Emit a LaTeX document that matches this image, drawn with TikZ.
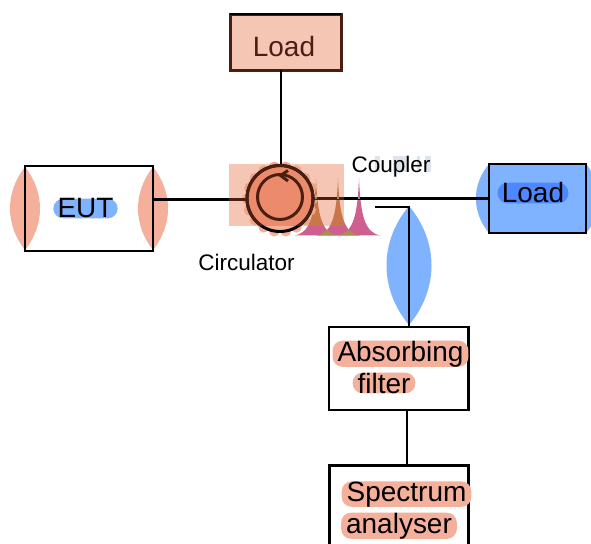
\documentclass[tikz,border=0pt]{standalone}
\usepackage{fontspec}
\setmainfont{Liberation Sans}
\usetikzlibrary{positioning, calc}
\definecolor{salmon}{HTML}{F4B09A}
\definecolor{palesalmon}{HTML}{F6C6B5}
\definecolor{midsalmon}{HTML}{F0A487}
\definecolor{deepsalmon}{HTML}{EC8A6C}
\definecolor{skyblue}{HTML}{80B3FF}
\definecolor{deepblue}{HTML}{4D88FF}
\definecolor{darkbrown}{HTML}{4A1E12}
\definecolor{spikepink}{HTML}{CF5F8F}
\definecolor{spikeorange}{HTML}{C9774A}
\definecolor{spikeolive}{HTML}{A8904F}
\definecolor{spiketeal}{HTML}{3DB08A}
\definecolor{paleslate}{HTML}{DDE4EC}
\tikzset{
  block/.style={draw=black, line width=2.1pt, inner sep=0pt, outer sep=0pt},
  wire/.style={draw=black, line width=2.1pt},
  bigtext/.style={font=\fontsize{19.9}{23}\selectfont, inner sep=0pt, anchor=base},
  smalltext/.style={font=\fontsize{16}{19}\selectfont, inner sep=0pt, anchor=base},
  mark salmon/.style={bigtext, fill=salmon, rounded corners=7pt, inner xsep=3.5pt},
  mark blue/.style={bigtext, fill=skyblue, rounded corners=7pt, inner xsep=3pt},
}
\newcommand{\lens}[4]{% x top bottom bulge
  (#1,#2) .. controls (#1-#4,#2+.3*#3-.3*#2) and (#1-#4,#2+.7*#3-.7*#2) .. (#1,#3)
          .. controls (#1+#4,#2+.7*#3-.7*#2) and (#1+#4,#2+.3*#3-.3*#2) .. (#1,#2) -- cycle}
\newcommand{\spike}[1]{% x of the peak
  (#1,178) .. controls (#1+1.5,216) and (#1+6,233.5) .. (#1+22,235.5)
           -- (#1-22,235.5) .. controls (#1-6,233.5) and (#1-1.5,216) .. (#1,178) -- cycle}
\newcommand{\blobfill}[1]{% scalloped disc of the circulator
  \fill[#1] (280,199) circle (34);
  \foreach \a in {0,20,...,340}
    \fill[#1] ($(280,199)+(\a:32.5)$) circle (5.5);}
\begin{document}
\begin{tikzpicture}[x=0.025cm, y=-0.025cm]
  \useasboundingbox (0,0) rectangle (591,544);

  % lobes
  \fill[salmon] \lens{25}{167}{250}{20};
  \fill[salmon] \lens{153}{167}{250}{20};
  \fill[skyblue] \lens{409}{206}{325}{30};
  \fill[skyblue] \lens{489}{164}{233}{17.5};
  \fill[skyblue] \lens{586}{164}{233}{17.5};

  % boxes
  \node[block, minimum width=3.2cm, minimum height=2.125cm] (eut) at (89,208.5) {};
  \node[block, minimum width=2.425cm, minimum height=1.725cm, fill=skyblue] (loadright) at (537.5,198.5) {};
  \node[block, minimum width=2.775cm, minimum height=1.4cm, fill=palesalmon, draw=darkbrown] (loadtop) at (285.75,42.5) {};
  \node[block, minimum width=3.475cm, minimum height=2.075cm, fill=white] (absorber) at (398.5,368.5) {};
  \node[block, minimum width=3.475cm, minimum height=2.075cm, fill=white] (analyser) at (399,507) {};
  \draw[black, line width=1.4pt] ([yshift=0.4pt]loadtop.north west) -- ([yshift=0.4pt]loadtop.north east);

  % peaks
  \foreach \x in {316,338,359} \fill[spikepink] \spike{\x};
  \begin{scope}
    \clip \spike{316};
    \fill[spikeolive] \spike{338};
  \end{scope}
  \begin{scope}
    \clip \spike{338};
    \fill[spikeolive] \spike{359};
  \end{scope}

  % circulator
  \blobfill{salmon}
  \fill[palesalmon] (229,164) rectangle (344,226);
  \begin{scope}
    \clip (229,164) rectangle (344,226);
    \fill[spikeorange] \spike{316};
    \fill[spikeorange] \spike{338};
    \blobfill{midsalmon}
    \fill[deepsalmon] (280,198.5) circle (33);
  \end{scope}
  \node[circle, draw=black, line width=2.1pt, minimum size=1.65cm, inner sep=0pt, outer sep=0pt] (circulator) at (280,198.5) {};

  % wires
  \coordinate (tap) at (375,207);
  \coordinate (bend) at (409,207);
  \coordinate (dropin) at (407,410);
  \coordinate (dropout) at (407,465);
  \draw[wire] (281,70) -- (281,165.5);
  \draw[wire] (eut.east |- 0,199.5) -- (circulator.west |- 0,199.5);
  \draw[wire] (circulator.east) -- (loadright.west |- circulator);
  \draw[wire] (tap) -- (bend) -- (bend |- absorber.north);
  \draw[wire] (dropin) -- (dropout);

  % dark parts under the square
  \begin{scope}
    \clip (229,164) rectangle (344,226);
    \draw[darkbrown, line width=2.1pt] (circulator) circle (33);
    \draw[darkbrown, line width=2.1pt] (229,199.5) -- (circulator.west |- 0,199.5);
    \draw[darkbrown, line width=2.1pt] (circulator.east) -- (344,198.5);
  \end{scope}
  \draw[darkbrown, line width=2.1pt] (280,197) circle (22.5);
  \draw[darkbrown, line width=2.1pt] (288,170.5) -- (280.5,175.5) -- (288,181);
  \foreach \x in {316,338,359} \fill[spiketeal] (\x-1,197.5) rectangle (\x+1,199.5);

  % text
  \foreach \xa/\xb in {375/380,393/408,417/420,425/431} \fill[paleslate] (\xa,156) rectangle (\xb,172);
  \node[mark blue] (eutlabel) at (85.5,218) {EUT};
  \node[mark blue, fill=deepblue] (loadrightlabel) at (533,203) {Load};
  \node[bigtext, text=darkbrown] (loadtoplabel) at (284,57) {Load};
  \node[mark salmon] (absorbinglabel) at (400.5,361) {Absorbing};
  \node[mark salmon] (filterlabel) at (384,393) {filter};
  \node[mark salmon] (spectrumlabel) at (406.5,501) {Spectrum};
  \node[mark salmon] (analyserlabel) at (399,533) {analyser};
  \node[smalltext] (coupler) at (391,173) {Coupler};
  \node[smalltext] (circulatorlabel) at (246.5,271) {Circulator};
\end{tikzpicture}
\end{document}
